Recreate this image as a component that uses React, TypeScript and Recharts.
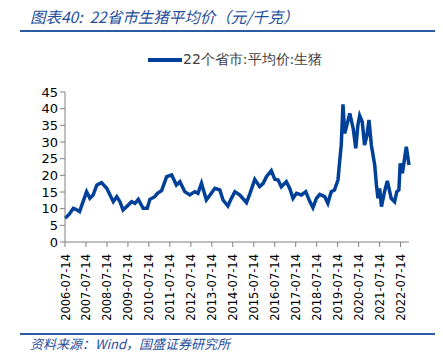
import React from "react";
import { CartesianGrid, Line, LineChart, XAxis, YAxis } from "recharts";

// 22省市生猪平均价（元/千克），按图读数，近似值
const dates = [
  "2006-07-14", "2006-09-20", "2006-12-05", "2007-01-20", "2007-03-25", "2007-05-25", "2007-07-25",
  "2007-09-20", "2007-11-15", "2008-01-20", "2008-04-10", "2008-07-10", "2008-09-05", "2008-11-01",
  "2009-01-01", "2009-02-25", "2009-04-20", "2009-06-20", "2009-09-15", "2009-11-15", "2010-01-10",
  "2010-04-05", "2010-06-15", "2010-08-01", "2010-10-25", "2010-12-10", "2011-02-20", "2011-05-20",
  "2011-08-15", "2011-11-05", "2012-01-05", "2012-03-30", "2012-06-25", "2012-09-20", "2012-11-15",
  "2013-01-15", "2013-04-10", "2013-07-05", "2013-09-05", "2013-12-01", "2014-01-25", "2014-04-20",
  "2014-06-20", "2014-08-20", "2014-11-15", "2015-03-10", "2015-05-10", "2015-08-01", "2015-10-25",
  "2015-12-25", "2016-02-20", "2016-05-15", "2016-07-15", "2016-09-10", "2016-11-05", "2017-02-01",
  "2017-04-01", "2017-05-28", "2017-07-28", "2017-10-22", "2018-01-05", "2018-03-15", "2018-05-10",
  "2018-07-10", "2018-09-05", "2018-12-01", "2019-01-25", "2019-03-25", "2019-05-20", "2019-07-20",
  "2019-08-18", "2019-09-15", "2019-10-15", "2019-11-15", "2019-12-15", "2020-02-10", "2020-04-10",
  "2020-05-25", "2020-07-01", "2020-08-01", "2020-09-15", "2020-10-25", "2020-12-05", "2021-01-10",
  "2021-02-20", "2021-04-20", "2021-05-20", "2021-06-15", "2021-07-15", "2021-08-15", "2021-10-08",
  "2021-11-25", "2022-02-01", "2022-04-01", "2022-05-10", "2022-06-15", "2022-07-08", "2022-08-15",
  "2022-10-22", "2022-12-08"
];

const prices = [
  7.1, 8.2, 10.1, 9.8, 9.1, 12.1, 15.1,
  13.1, 14.1, 17.1, 17.8, 16.1, 14.1, 12.1,
  13.6, 12.1, 9.6, 10.6, 12.1, 11.6, 12.8,
  10.1, 10.1, 12.8, 13.6, 14.6, 15.4, 19.6,
  20.1, 17.1, 18.1, 15.1, 14.1, 15.1, 14.6,
  17.6, 12.6, 14.6, 16.1, 15.6, 12.6, 10.8,
  13.1, 15.1, 14.1, 11.8, 14.6, 18.8, 16.6,
  17.6, 19.6, 21.4, 18.8, 18.6, 16.6, 18.1,
  16.1, 13.1, 14.6, 14.1, 15.1, 12.2, 10.3,
  13.1, 14.3, 13.6, 11.6, 15.1, 15.6, 18.6,
  24.1, 29.1, 41.3, 32.6, 34.6, 38.6, 34.1,
  28.1, 35.1, 37.9, 36.0, 29.1, 32.0, 36.6,
  29.1, 23.1, 17.1, 13.1, 16.1, 10.6, 15.1,
  18.3, 13.1, 12.1, 15.1, 15.6, 23.6, 20.6,
  28.6, 23.1
];

const xTickDates = [
  "2006-07-14", "2007-07-14", "2008-07-14", "2009-07-14", "2010-07-14", "2011-07-14",
  "2012-07-14", "2013-07-14", "2014-07-14", "2015-07-14", "2016-07-14", "2017-07-14",
  "2018-07-14", "2019-07-14", "2020-07-14", "2021-07-14", "2022-07-14"
];

const yTicks = [0, 5, 10, 15, 20, 25, 30, 35, 40, 45];

const toTime = (d: string) => Date.parse(d + "T00:00:00Z");
const fmt = (t: number) => new Date(t).toISOString().slice(0, 10);

const data = dates.map((d, i) => ({ t: toTime(d), v: prices[i] }));
const xTicks = xTickDates.map(toTime);

const blue = "#004098";
const titleBlue = "#1f4e9c";
const axisFont = "'DejaVu Sans', sans-serif";

function DateTick({ x, y, payload }: any) {
  return (
    <text
      x={0}
      y={0}
      transform={`translate(${x + 4.5},${y + 5}) rotate(-90)`}
      textAnchor="end"
      fontSize={11.5}
      fontFamily={axisFont}
      fill="#000"
    >
      {fmt(payload.value)}
    </text>
  );
}

export default function App() {
  return (
    <div style={{ position: "absolute", left: 0, top: 0, width: 443, height: 358, background: "#fff" }}>
      <div
        style={{
          position: "absolute",
          left: 30,
          top: 5,
          fontSize: 15.5,
          fontStyle: "italic",
          color: titleBlue,
          fontFamily: "'Noto Sans CJK SC', sans-serif",
          whiteSpace: "nowrap"
        }}
      >
        图表40:&nbsp;&nbsp;22省市生猪平均价（元/千克）
      </div>
      <div style={{ position: "absolute", left: 20, top: 30, width: 415, height: 2, background: "#2c5ba6" }} />

      <div style={{ position: "absolute", left: 148, top: 51, display: "flex", alignItems: "center", whiteSpace: "nowrap" }}>
        <div style={{ width: 34, height: 4, background: blue }} />
        <span style={{ marginLeft: 1, fontSize: 14, fontFamily: axisFont, color: "#404040" }}>22个省市:平均价:生猪</span>
      </div>

      <div style={{ position: "absolute", left: 0, top: 0 }}>
        <LineChart width={443} height={340} data={data} margin={{ top: 92, right: 34, bottom: 18, left: 0 }}>
          <CartesianGrid horizontal={false} vertical={false} />
          <XAxis
            dataKey="t"
            type="number"
            scale="time"
            domain={["dataMin", "dataMax"]}
            ticks={xTicks}
            interval={0}
            height={80}
            tick={<DateTick />}
            tickSize={5}
            stroke="#808080"
          />
          <YAxis
            type="number"
            domain={[0, 45]}
            ticks={yTicks}
            interval={0}
            width={65}
            tickSize={5}
            stroke="#808080"
            tick={{ fill: "#000", fontSize: 13, fontFamily: axisFont }}
          />
          <Line
            type="linear"
            dataKey="v"
            stroke={blue}
            strokeWidth={3.5}
            dot={false}
            isAnimationActive={false}
          />
        </LineChart>
      </div>

      <div style={{ position: "absolute", left: 20, top: 333, width: 415, height: 2, background: "#2c5ba6" }} />
      <div
        style={{
          position: "absolute",
          left: 30,
          top: 334,
          fontSize: 13,
          fontStyle: "italic",
          color: titleBlue,
          fontFamily: "'Noto Sans CJK SC', sans-serif",
          whiteSpace: "nowrap"
        }}
      >
        资料来源：Wind，国盛证券研究所
      </div>
    </div>
  );
}
